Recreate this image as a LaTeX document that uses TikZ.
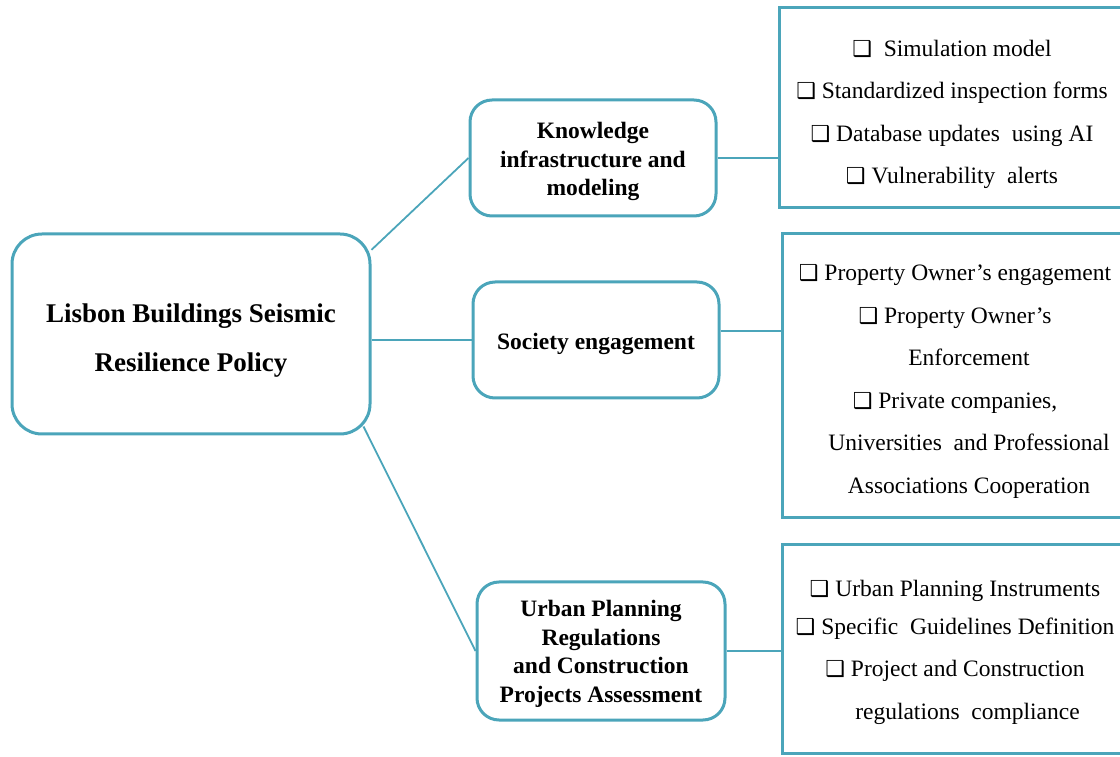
\documentclass[tikz,border=0pt]{standalone}
\usepackage{fontspec}
\setmainfont{Liberation Serif}
\newfontfamily\symfont{DejaVu Sans}
\usepackage{tikz}
\usetikzlibrary{positioning,calc}
\definecolor{policyteal}{RGB}{75,165,186}
\newcommand{\cbox}{{\symfont\fontsize{22pt}{22pt}\selectfont ❑}}
\tikzset{x=1pt, y=1pt, node distance=60pt,
  pillar/.style={draw=policyteal, line width=3pt, rounded corners=22pt, fill=white,
    align=center, inner sep=0pt, minimum width=246pt, minimum height=116pt,
    font=\bfseries\fontsize{23.5pt}{28.5pt}\selectfont},
  actions/.style={draw=policyteal, line width=3pt, fill=white, align=center,
    inner sep=0pt, minimum width=345pt,
    font=\fontsize{23.5pt}{42.5pt}\selectfont},
  conn/.style={draw=policyteal, line width=1.8pt}}

\begin{document}
\begin{tikzpicture}
\useasboundingbox (0,0) rectangle (1120,756);
\node (main) [pillar, rounded corners=30pt, minimum width=358pt, minimum height=200pt,
  text height=81pt, font=\bfseries\fontsize{27pt}{49pt}\selectfont] at (191,422)
  {Lisbon Buildings Seismic\\Resilience Policy};
\node (soc) [pillar, right=100pt of main, yshift=-6pt, text height=24pt] {Society engagement};
\node (know) [pillar, above=63pt of soc, xshift=-3pt, text height=81pt]
  {Knowledge\\infrastructure and\\modeling};
\node (urb) [pillar, below=181pt of soc, xshift=5pt, minimum width=248pt, minimum height=138pt,
  text height=107.5pt]
  {Urban Planning\\Regulations\\and Construction\\Projects Assessment};
% lists of actions
\node (acts1) [actions, minimum height=200pt, text height=156.5pt] at (952,648)
  {\cbox\ \ Simulation model\\
   \cbox\ Standardized inspection forms\\
   \cbox\ Database updates\ \ using AI\\
   \cbox\ Vulnerability\ \ alerts};
\node (acts2) [actions, minimum height=284pt, text height=239.5pt] at (955,380)
  {\cbox\ Property Owner’s engagement\\
   \cbox\ Property Owner’s\\
   \hspace*{28pt}Enforcement\\
   \cbox\ Private companies,\\
   \hspace*{28pt}Universities\ \ and Professional\\
   \hspace*{28pt}Associations Cooperation};
\node (acts3) [actions, minimum height=208pt, text height=146pt] at (955,107)
  {\cbox\ Urban Planning Instruments\\[-4.5pt]
   \cbox\ Specific\ \ Guidelines Definition\\
   \cbox\ Project and Construction\\
   \hspace*{25pt}regulations\ \ compliance};
\draw[conn] (main.25) -- (know.west);
\draw[conn] (main.east |- soc.west) -- (soc.west);
\draw[conn] ($(main.south east)+(-8,9)$) -- (urb.west);
\draw[conn] (know.east) -- (know.east -| acts1.west);
\draw[conn] ([yshift=9pt]soc.east) -- ([yshift=9pt]soc.east -| acts2.west);
\draw[conn] (urb.east) -- (urb.east -| acts3.west);
\end{tikzpicture}
\end{document}
